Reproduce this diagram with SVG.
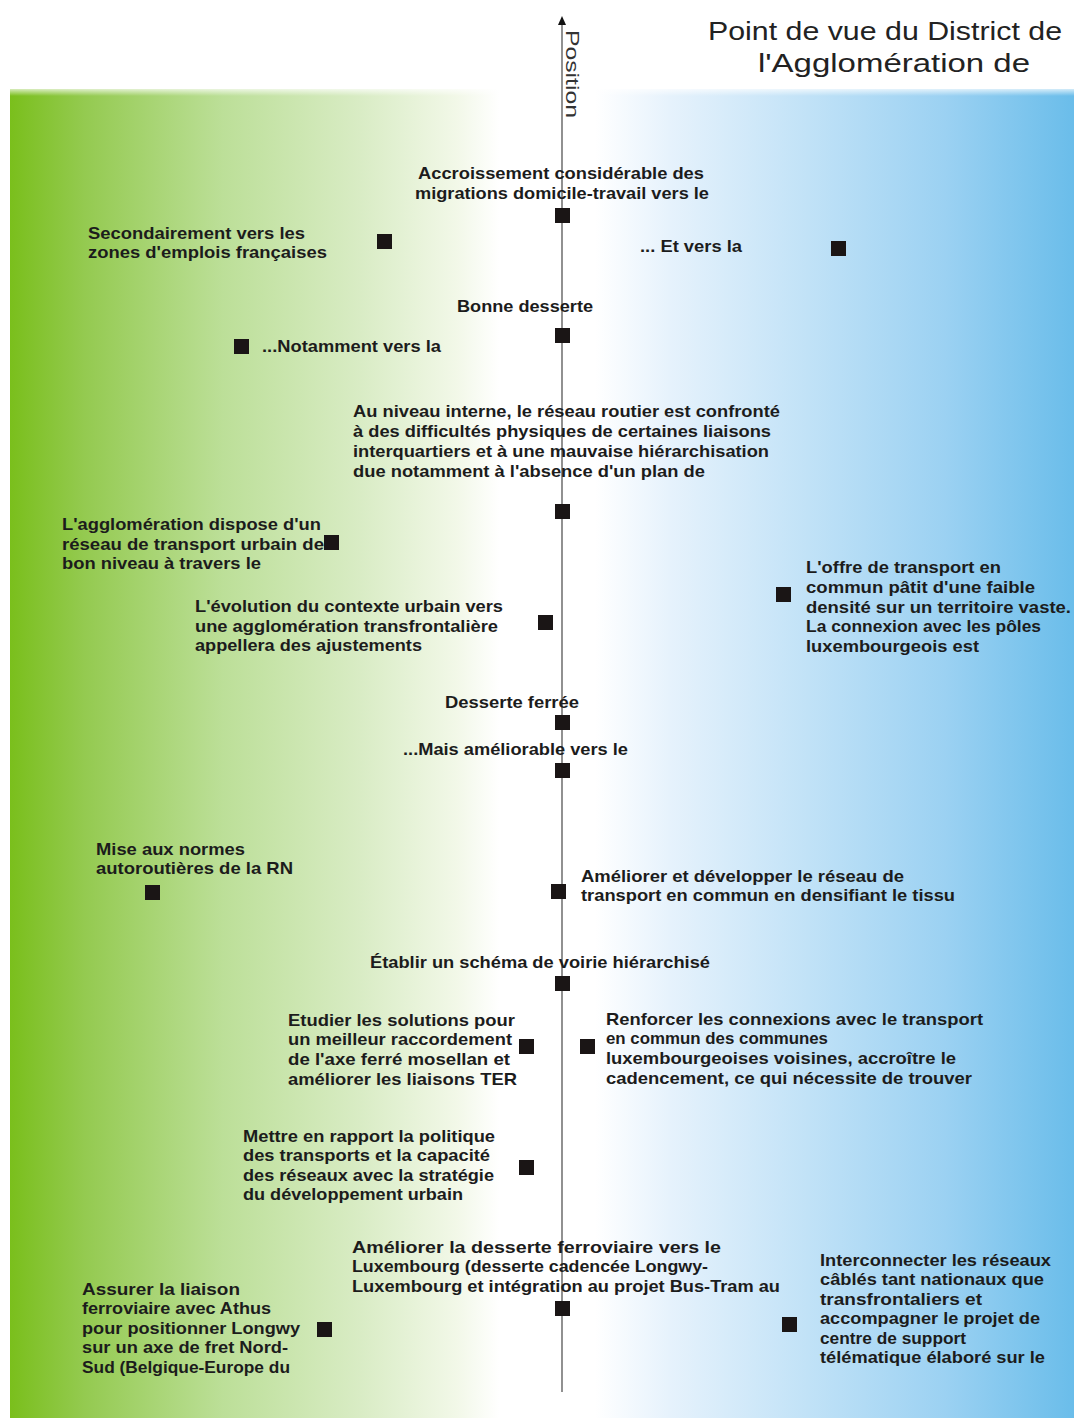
<svg xmlns="http://www.w3.org/2000/svg" width="1074" height="1418" viewBox="0 0 1074 1418">
<defs>
<linearGradient id="bg" x1="10" y1="0" x2="1074" y2="0" gradientUnits="userSpaceOnUse">
<stop offset="0" stop-color="#7abf1c"/>
<stop offset="0.07" stop-color="#94ca50"/>
<stop offset="0.2" stop-color="#bcdf98"/>
<stop offset="0.33" stop-color="#d9ecc5"/>
<stop offset="0.42" stop-color="#f2f8e8"/>
<stop offset="0.46" stop-color="#ffffff"/>
<stop offset="0.55" stop-color="#ffffff"/>
<stop offset="0.62" stop-color="#e6f2fc"/>
<stop offset="0.75" stop-color="#c1e2f7"/>
<stop offset="0.88" stop-color="#9bd1f2"/>
<stop offset="1" stop-color="#6abdea"/>
</linearGradient>
<linearGradient id="topfade" x1="0" y1="86" x2="0" y2="96" gradientUnits="userSpaceOnUse">
<stop offset="0" stop-color="#ffffff" stop-opacity="1"/>
<stop offset="1" stop-color="#ffffff" stop-opacity="0"/>
</linearGradient>
</defs>
<style>
.t{font-family:"Liberation Sans",Arial,sans-serif;font-weight:bold;font-size:17px;fill:#1c1c1c}
.title{font-family:"Liberation Sans",Arial,sans-serif;font-size:26px;fill:#222}
.pos{font-family:"Liberation Sans",Arial,sans-serif;font-size:19px;fill:#333}
.m{fill:#1a1515}
</style>
<rect x="0" y="0" width="1074" height="1418" fill="#ffffff"/>
<rect x="10" y="89" width="1064" height="1329" fill="url(#bg)"/>
<rect x="10" y="86" width="1064" height="10" fill="url(#topfade)"/>

<g id="title">
<text class="title" x="708" y="40" textLength="354" lengthAdjust="spacingAndGlyphs">Point de vue du District de</text>
<text class="title" x="758" y="72" textLength="272" lengthAdjust="spacingAndGlyphs">l'Agglomération de</text>
</g>

<g id="connectors">
<line x1="562" y1="24" x2="562" y2="1392" stroke="#555" stroke-width="1.3"/>
<path d="M562 16 L566 25 L558 25 Z" fill="#111"/>
<text class="pos" transform="translate(566 30) rotate(90)" textLength="88" lengthAdjust="spacingAndGlyphs">Position</text>
</g>

<g id="n1">
<text class="t" x="418" y="179" textLength="286" lengthAdjust="spacingAndGlyphs">Accroissement considérable des</text>
<text class="t" x="415" y="199" textLength="294" lengthAdjust="spacingAndGlyphs">migrations domicile-travail vers le</text>
<rect class="m" x="555" y="208" width="15" height="15"/>
</g>
<g id="n2">
<text class="t" x="88" y="239" textLength="217" lengthAdjust="spacingAndGlyphs">Secondairement vers les</text>
<text class="t" x="88" y="258" textLength="239" lengthAdjust="spacingAndGlyphs">zones d'emplois françaises</text>
<rect class="m" x="377" y="234" width="15" height="15"/>
</g>
<g id="n3">
<text class="t" x="640" y="252" textLength="102" lengthAdjust="spacingAndGlyphs">... Et vers la</text>
<rect class="m" x="831" y="241" width="15" height="15"/>
</g>
<g id="n4">
<text class="t" x="457" y="312" textLength="136" lengthAdjust="spacingAndGlyphs">Bonne desserte</text>
<rect class="m" x="555" y="328" width="15" height="15"/>
</g>
<g id="n5">
<rect class="m" x="234" y="339" width="15" height="15"/>
<text class="t" x="262" y="352" textLength="179" lengthAdjust="spacingAndGlyphs">...Notamment vers la</text>
</g>
<g id="n6">
<text class="t" x="353" y="417" textLength="427" lengthAdjust="spacingAndGlyphs">Au niveau interne, le réseau routier est confronté</text>
<text class="t" x="353" y="437" textLength="418" lengthAdjust="spacingAndGlyphs">à des difficultés physiques de certaines liaisons</text>
<text class="t" x="353" y="457" textLength="416" lengthAdjust="spacingAndGlyphs">interquartiers et à une mauvaise hiérarchisation</text>
<text class="t" x="353" y="477" textLength="352" lengthAdjust="spacingAndGlyphs">due notamment à l'absence d'un plan de</text>
<rect class="m" x="555" y="504" width="15" height="15"/>
</g>
<g id="n7">
<text class="t" x="62" y="530" textLength="259" lengthAdjust="spacingAndGlyphs">L'agglomération dispose d'un</text>
<text class="t" x="62" y="550" textLength="262" lengthAdjust="spacingAndGlyphs">réseau de transport urbain de</text>
<text class="t" x="62" y="569" textLength="199" lengthAdjust="spacingAndGlyphs">bon niveau à travers le</text>
<rect class="m" x="324" y="535" width="15" height="15"/>
</g>
<g id="n8">
<rect class="m" x="776" y="587" width="15" height="15"/>
<text class="t" x="806" y="573" textLength="195" lengthAdjust="spacingAndGlyphs">L'offre de transport en</text>
<text class="t" x="806" y="593" textLength="229" lengthAdjust="spacingAndGlyphs">commun pâtit d'une faible</text>
<text class="t" x="806" y="613" textLength="265" lengthAdjust="spacingAndGlyphs">densité sur un territoire vaste.</text>
<text class="t" x="806" y="632" textLength="235" lengthAdjust="spacingAndGlyphs">La connexion avec les pôles</text>
<text class="t" x="806" y="652" textLength="173" lengthAdjust="spacingAndGlyphs">luxembourgeois est</text>
</g>
<g id="n9">
<text class="t" x="195" y="612" textLength="308" lengthAdjust="spacingAndGlyphs">L'évolution du contexte urbain vers</text>
<text class="t" x="195" y="632" textLength="303" lengthAdjust="spacingAndGlyphs">une agglomération transfrontalière</text>
<text class="t" x="195" y="651" textLength="227" lengthAdjust="spacingAndGlyphs">appellera des ajustements</text>
<rect class="m" x="538" y="615" width="15" height="15"/>
</g>
<g id="n10">
<text class="t" x="445" y="708" textLength="134" lengthAdjust="spacingAndGlyphs">Desserte ferrée</text>
<rect class="m" x="555" y="715" width="15" height="15"/>
</g>
<g id="n11">
<text class="t" x="403" y="755" textLength="225" lengthAdjust="spacingAndGlyphs">...Mais améliorable vers le</text>
<rect class="m" x="555" y="763" width="15" height="15"/>
</g>
<g id="n12">
<text class="t" x="96" y="855" textLength="149" lengthAdjust="spacingAndGlyphs">Mise aux normes</text>
<text class="t" x="96" y="874" textLength="197" lengthAdjust="spacingAndGlyphs">autoroutières de la RN</text>
<rect class="m" x="145" y="885" width="15" height="15"/>
</g>
<g id="n13">
<rect class="m" x="551" y="884" width="15" height="15"/>
<text class="t" x="581" y="882" textLength="323" lengthAdjust="spacingAndGlyphs">Améliorer et développer le réseau de</text>
<text class="t" x="581" y="901" textLength="374" lengthAdjust="spacingAndGlyphs">transport en commun en densifiant le tissu</text>
</g>
<g id="n14">
<text class="t" x="370" y="968" textLength="340" lengthAdjust="spacingAndGlyphs">Établir un schéma de voirie hiérarchisé</text>
<rect class="m" x="555" y="976" width="15" height="15"/>
</g>
<g id="n15">
<text class="t" x="288" y="1026" textLength="227" lengthAdjust="spacingAndGlyphs">Etudier les solutions pour</text>
<text class="t" x="288" y="1045" textLength="224" lengthAdjust="spacingAndGlyphs">un meilleur raccordement</text>
<text class="t" x="288" y="1065" textLength="222" lengthAdjust="spacingAndGlyphs">de l'axe ferré mosellan et</text>
<text class="t" x="288" y="1085" textLength="229" lengthAdjust="spacingAndGlyphs">améliorer les liaisons TER</text>
<rect class="m" x="519" y="1039" width="15" height="15"/>
</g>
<g id="n16">
<rect class="m" x="580" y="1039" width="15" height="15"/>
<text class="t" x="606" y="1025" textLength="377" lengthAdjust="spacingAndGlyphs">Renforcer les connexions avec le transport</text>
<text class="t" x="606" y="1044" textLength="222" lengthAdjust="spacingAndGlyphs">en commun des communes</text>
<text class="t" x="606" y="1064" textLength="350" lengthAdjust="spacingAndGlyphs">luxembourgeoises voisines, accroître le</text>
<text class="t" x="606" y="1084" textLength="366" lengthAdjust="spacingAndGlyphs">cadencement, ce qui nécessite de trouver</text>
</g>
<g id="n17">
<text class="t" x="243" y="1142" textLength="252" lengthAdjust="spacingAndGlyphs">Mettre en rapport la politique</text>
<text class="t" x="243" y="1161" textLength="247" lengthAdjust="spacingAndGlyphs">des transports et la capacité</text>
<text class="t" x="243" y="1181" textLength="251" lengthAdjust="spacingAndGlyphs">des réseaux avec la stratégie</text>
<text class="t" x="243" y="1200" textLength="220" lengthAdjust="spacingAndGlyphs">du développement urbain</text>
<rect class="m" x="519" y="1160" width="15" height="15"/>
</g>
<g id="n18">
<text class="t" x="352" y="1253" textLength="369" lengthAdjust="spacingAndGlyphs">Améliorer la desserte ferroviaire vers le</text>
<text class="t" x="352" y="1272" textLength="356" lengthAdjust="spacingAndGlyphs">Luxembourg (desserte cadencée Longwy-</text>
<text class="t" x="352" y="1292" textLength="428" lengthAdjust="spacingAndGlyphs">Luxembourg et intégration au projet Bus-Tram au</text>
<rect class="m" x="555" y="1301" width="15" height="15"/>
</g>
<g id="n19">
<rect class="m" x="782" y="1317" width="15" height="15"/>
<text class="t" x="820" y="1266" textLength="231" lengthAdjust="spacingAndGlyphs">Interconnecter les réseaux</text>
<text class="t" x="820" y="1285" textLength="224" lengthAdjust="spacingAndGlyphs">câblés tant nationaux que</text>
<text class="t" x="820" y="1305" textLength="162" lengthAdjust="spacingAndGlyphs">transfrontaliers et</text>
<text class="t" x="820" y="1324" textLength="220" lengthAdjust="spacingAndGlyphs">accompagner le projet de</text>
<text class="t" x="820" y="1344" textLength="146" lengthAdjust="spacingAndGlyphs">centre de support</text>
<text class="t" x="820" y="1363" textLength="225" lengthAdjust="spacingAndGlyphs">télématique élaboré sur le</text>
</g>
<g id="n20">
<text class="t" x="82" y="1295" textLength="158" lengthAdjust="spacingAndGlyphs">Assurer la liaison</text>
<text class="t" x="82" y="1314" textLength="189" lengthAdjust="spacingAndGlyphs">ferroviaire avec Athus</text>
<text class="t" x="82" y="1334" textLength="218" lengthAdjust="spacingAndGlyphs">pour positionner Longwy</text>
<text class="t" x="82" y="1353" textLength="206" lengthAdjust="spacingAndGlyphs">sur un axe de fret Nord-</text>
<text class="t" x="82" y="1373" textLength="208" lengthAdjust="spacingAndGlyphs">Sud (Belgique-Europe du</text>
<rect class="m" x="317" y="1322" width="15" height="15"/>
</g>
</svg>
